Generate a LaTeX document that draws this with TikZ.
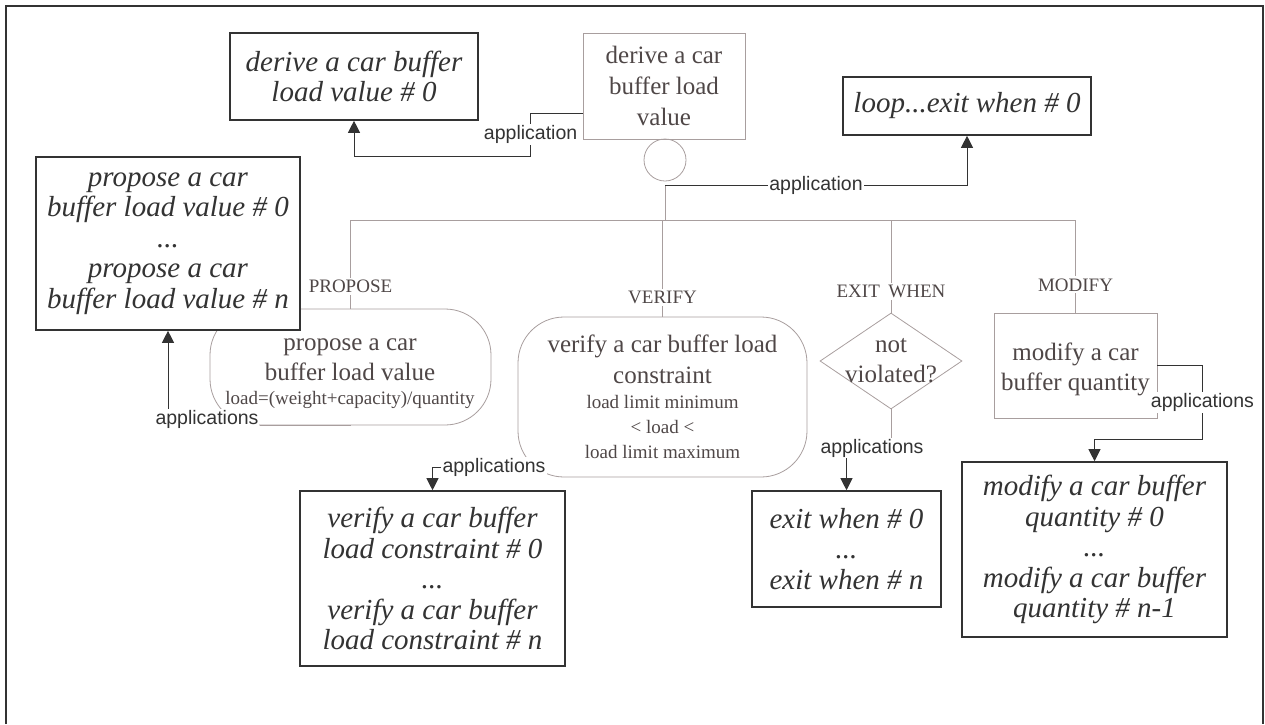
\documentclass[tikz,border=0pt]{standalone}
\usepackage{fontspec}
\setmainfont{Liberation Serif}
\setsansfont{Liberation Sans}
\usetikzlibrary{shapes.geometric,arrows.meta,calc}
\definecolor{ink}{HTML}{333333}
\definecolor{soft}{HTML}{A89E9E}
\definecolor{softtext}{HTML}{4F4747}

\begin{document}
\begin{tikzpicture}[x=1pt,y=-1pt,
  listbox/.style={draw=ink,line width=1.6pt,fill=white,text=ink,align=center,inner sep=0pt,
    font=\itshape\fontsize{29}{30.5}\selectfont},
  plainbox/.style={draw=soft,line width=0.8pt,fill=white,text=softtext,align=center,inner sep=0pt,
    font=\fontsize{25}{31}\selectfont},
  roundbox/.style={plainbox,rounded corners=46pt},
  plaintext/.style={text=softtext,align=center,inner sep=0pt,font=\fontsize{25}{30}\selectfont},
  kind/.style={fill=white,text=softtext,inner sep=2pt,font=\fontsize{19}{22}\selectfont},
  lbl/.style={fill=white,text=ink,inner sep=1pt,font=\sffamily\fontsize{19.5}{22}\selectfont},
  link/.style={draw=ink,line width=0.9pt},
  arrowlink/.style={link,-{Triangle[length=12pt,width=12pt]}},
  bus/.style={draw=soft,line width=0.8pt},
]
\useasboundingbox (0,0) rectangle (1265,724);

% outer frame, open at the bottom
\draw[ink,line width=2pt] (6,724) -- (6,6) -- (1263,6) -- (1263,724);

% top: the derive step and its two results
\node[listbox,minimum width=248pt,minimum height=87pt] (d0) at (354,76.5)
  {derive a car buffer\\load value \# 0};
\node[plainbox,minimum width=162pt,minimum height=106pt] (derive) at (664,86)
  {derive a car\\buffer load\\value};
\node[circle,draw=soft,line width=0.8pt,minimum size=42pt,inner sep=0pt] (hub) at (665,160) {};
\node[listbox,minimum width=248pt,minimum height=58pt] (loop) at (967,106)
  {loop...exit when \# 0};

% the four parts of the loop
\node[roundbox,minimum width=281pt,minimum height=116pt] (propR) at (350.5,367) {};
\node[plaintext] (propText) at (350,374)
  {propose a car\\buffer load value\\[-6pt]{\fontsize{19}{24}\selectfont load=(weight+capacity)/quantity}};
\node[listbox,minimum width=264pt,minimum height=173pt] (propL) at (168,243.5)
  {propose a car\\buffer load value \# 0\\...\\propose a car\\buffer load value \# n};

\node[roundbox,minimum width=289pt,minimum height=160pt] (verR) at (662.5,397)
  {verify a car buffer load\\constraint\\[-6pt]{\fontsize{19}{24}\selectfont load limit minimum}\\[-6pt]
   {\fontsize{19}{24}\selectfont < load <}\\[-6pt]{\fontsize{19}{24}\selectfont load limit maximum}};
\node[listbox,minimum width=265pt,minimum height=175pt] (verL) at (432.5,578.5)
  {verify a car buffer\\load constraint \# 0\\...\\verify a car buffer\\load constraint \# n};

\node[diamond,draw=soft,line width=0.8pt,minimum width=142pt,minimum height=96pt,inner sep=0pt] (dia) at (891,361) {};
\node[plaintext] (diaText) at (891,361) {not\\violated?};
\node[listbox,minimum width=189pt,minimum height=116pt] (exitL) at (846.5,549)
  {exit when \# 0\\...\\exit when \# n};

\node[plainbox,minimum width=163pt,minimum height=105pt] (modify) at (1075.5,365.5) {};
\node[plaintext] (modText) at (1075.5,369) {modify a car\\buffer quantity};
\node[listbox,minimum width=265pt,minimum height=175pt] (modL) at (1094.5,549.5)
  {modify a car buffer\\quantity \# 0\\...\\modify a car buffer\\quantity \# n-1};

% branching bus
\coordinate (j) at (665,185);
\coordinate (busL) at (350,220);
\coordinate (busR) at (1076,220);
\draw[bus] (j) -- (j |- busL);
\draw[bus] (busL) -- (busR);
\draw[bus] (propR.north |- busL) -- node[kind,pos=0.75]{PROPOSE} (propR.north);
\draw[bus] (verR.north |- busL) -- node[kind,pos=0.8]{VERIFY} (verR.north);
\draw[bus] (dia.north |- busL) -- node[kind,pos=0.77]{EXIT\hspace{0.45em}WHEN} (dia.north);
\draw[bus] (modify.north |- busL) -- node[kind,pos=0.7]{MODIFY} (modify.north);

% application connectors
\draw[arrowlink] ([yshift=-27pt]derive.west) -- ++(-52,0) -- node[lbl]{application} ++(0,43) -| (d0.south);
\draw[arrowlink] (j) -| node[lbl,pos=0.25]{application} (loop.south);

\node[lbl] (lblP) at (207,419) {applications};
\draw[bus] (lblP.east |- propR.south) -- (propR.south);
\draw[arrowlink] (lblP.north -| propL.south) -- (propL.south);

\node[lbl] (lblV) at (494,467) {applications};
\draw[arrowlink] (lblV.west) -| (verL.north);

\node[lbl] (lblE) at (872,448) {applications};
\draw[bus] (dia.south) -- (dia.south |- lblE.north);
\draw[arrowlink] (exitL.north |- lblE.south) -- (exitL.north);

\draw[arrowlink] (modify.east) -- ++(45,0) -- node[lbl]{applications} ++(0,74) -| (modL.north);
\end{tikzpicture}
\end{document}
